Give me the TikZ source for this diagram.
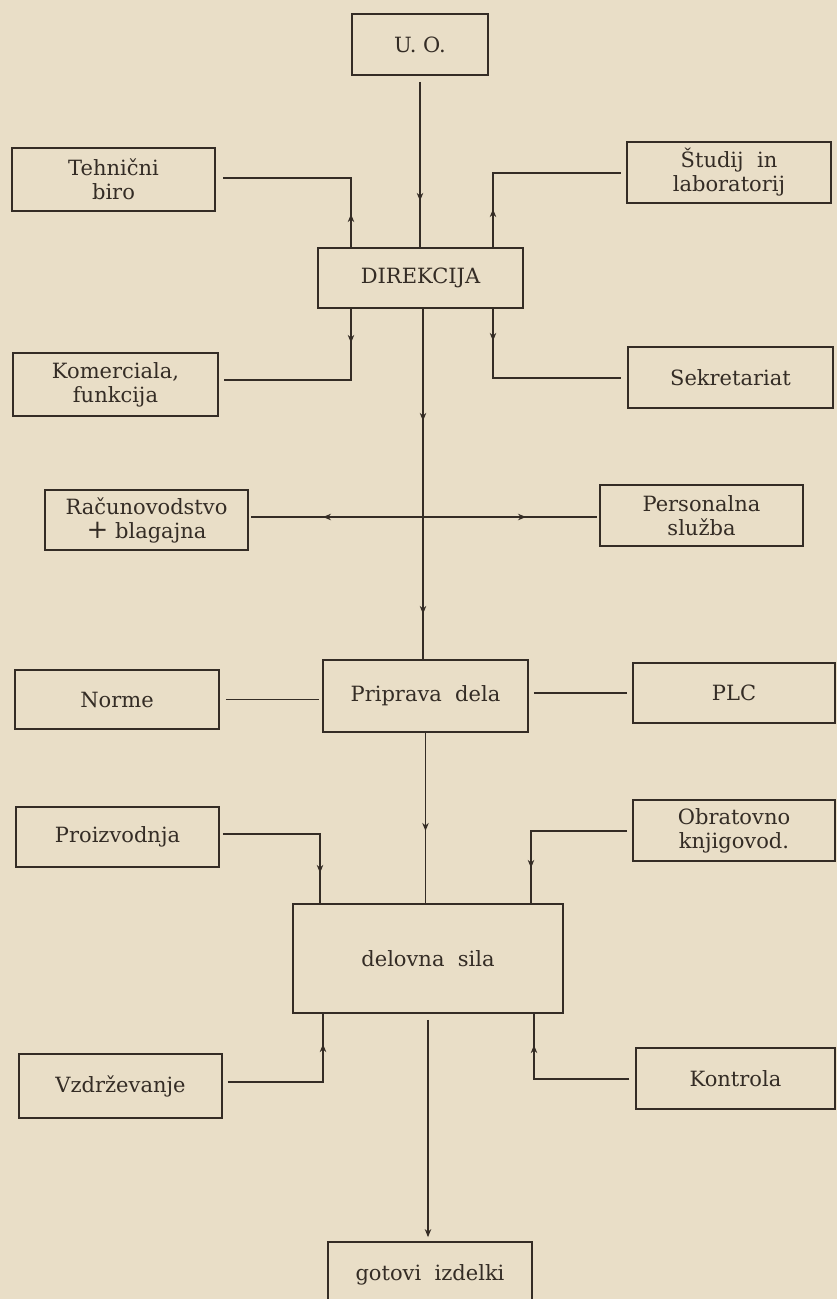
\documentclass[tikz,border=0pt]{standalone}
\usepackage{fontspec}
\setmainfont{DejaVu Serif}
\usetikzlibrary{arrows.meta,decorations.markings}
\definecolor{paper}{RGB}{233,222,199}
\definecolor{ink}{RGB}{52,44,37}
\begin{document}
\begin{tikzpicture}[x=1pt,y=-1pt,
  box/.style={draw=ink, line width=1.8pt, text=ink, align=center, inner sep=0pt,
    font=\fontsize{21}{24}\selectfont},
  conn/.style={draw=ink, line width=1.1pt},
  midarrow/.style={postaction={decorate}, decoration={markings,
    mark=at position #1 with {\arrow{Stealth[length=8pt,width=6.5pt]}}}},
  midarrows/.style 2 args={postaction={decorate}, decoration={markings,
    mark=at position #1 with {\arrow{Stealth[length=8pt,width=6.5pt]}},
    mark=at position #2 with {\arrow{Stealth[length=8pt,width=6.5pt]}}}},
]
\fill[paper] (0,0) rectangle (837,1299);
\useasboundingbox (0,0) rectangle (837,1299);
\begin{scope}
\clip (0,0) rectangle (837,1299);
% boxes
\node[box, minimum width=136pt, minimum height=61pt] (uo) at (420,44.5) {U. O.};
\node[box, minimum width=203pt, minimum height=63pt] (tb) at (113.5,179.5) {Tehnični\\biro};
\node[box, minimum width=205pt, minimum height=60pt] (dir) at (420.5,278) {DIREKCIJA};
\node[box, minimum width=204pt, minimum height=61pt] (stud) at (729,172.5) {Študij\ \ in\\laboratorij};
\node[box, minimum width=205pt, minimum height=63pt] (kom) at (115.5,384.5) {Komerciala,\\funkcija};
\node[box, minimum width=205pt, minimum height=61pt] (sek) at (730.5,377.5) {Sekretariat};
\node[box, minimum width=203pt, minimum height=60pt] (rac) at (146.5,520) {Računovodstvo\\{\fontsize{26}{24}\selectfont +} blagajna};
\node[box, minimum width=203pt, minimum height=61pt] (pers) at (701.5,515.5) {Personalna\\služba};
\node[box, minimum width=205pt, minimum height=72pt] (prip) at (425.5,696) {Priprava\ \ dela};
\node[box, minimum width=204pt, minimum height=59pt] (norme) at (117,699.5) {Norme};
\node[box, minimum width=202pt, minimum height=60pt] (plc) at (734,693) {PLC};
\node[box, minimum width=203pt, minimum height=60pt] (proiz) at (117.5,837) {Proizvodnja};
\node[box, minimum width=202pt, minimum height=61pt] (obr) at (734,830.5) {Obratovno\\knjigovod.};
\node[box, minimum width=270pt, minimum height=109pt] (dsila) at (428,958.5) {delovna\ \ sila};
\node[box, minimum width=203pt, minimum height=64pt] (vzd) at (120.5,1086) {Vzdrževanje};
\node[box, minimum width=199pt, minimum height=61pt] (kon) at (735.5,1078.5) {Kontrola};
\node[box, minimum width=204pt, minimum height=66pt] (got) at (430,1275) {gotovi\ \ izdelki};
% helper coordinates
\coordinate (tl) at (351,178);
\coordinate (tr) at (493,173);
\coordinate (bl) at (351,380);
\coordinate (br) at (493,378);
\coordinate (tk) at (423,517);
\coordinate (pl) at (320,834);
\coordinate (pr) at (531,831);
\coordinate (vl) at (323,1082);
\coordinate (vr) at (534,1079);
% connectors
\draw[conn, midarrow=125pt, shorten <=6pt] (uo.south) -- (uo.south |- dir.north);
\draw[conn, midarrow=33pt, shorten >=7pt] (dir.north -| tl) -- (tl) -- (tl -| tb.east);
\draw[conn, midarrow=38pt, shorten >=5pt] (dir.north -| tr) -- (tr) -- (tr -| stud.west);
\draw[conn, midarrow=34pt, shorten >=5pt] (dir.south -| bl) -- (bl) -- (bl -| kom.east);
\draw[conn, midarrow=32pt, shorten >=6pt] (dir.south -| br) -- (br) -- (br -| sek.west);
\draw[conn, midarrows={112pt}{305pt}] (dir.south -| tk) -- (prip.north -| tk);
\draw[conn, midarrow=100pt, shorten >=2pt] (tk) -- (tk -| rac.east);
\draw[conn, midarrow=103pt, shorten >=2pt] (tk) -- (tk -| pers.west);
\draw[conn, shorten <=6pt, shorten >=3pt] (norme.east) -- (norme.east -| prip.west);
\draw[conn, shorten <=5pt, shorten >=5pt] (prip.east |- plc.west) -- (plc.west);
\draw[conn, midarrow=98pt] (prip.south) -- (prip.south |- dsila.north);
\draw[conn, midarrow=139pt, shorten <=3pt] (proiz.east |- pl) -- (pl) -- (pl |- dsila.north);
\draw[conn, midarrow=138pt, shorten <=5pt] (obr.west |- pr) -- (pr) -- (pr |- dsila.north);
\draw[conn, midarrow=138pt, shorten <=5pt] (vzd.east |- vl) -- (vl) -- (vl |- dsila.south);
\draw[conn, midarrow=135pt, shorten <=6pt] (kon.west |- vr) -- (vr) -- (vr |- dsila.south);
\draw[conn, -{Stealth[length=8pt,width=6.5pt]}, shorten <=6pt, shorten >=4pt] (dsila.south) -- (dsila.south |- got.north);
\end{scope}
\end{tikzpicture}
\end{document}
